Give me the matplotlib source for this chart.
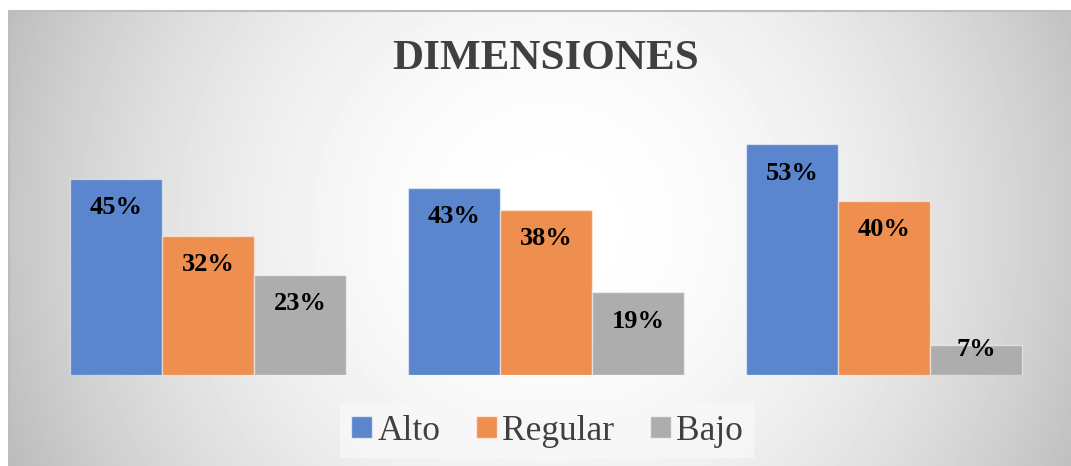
import numpy as np
import matplotlib.pyplot as plt
from matplotlib.patches import Patch

plt.rcParams["font.family"] = ["Liberation Serif", "DejaVu Serif"]

# Data
groups = ["Dimensión 1", "Dimensión 2", "Dimensión 3"]
series = ["Alto", "Regular", "Bajo"]
alto = [45, 43, 53]
regular = [32, 38, 40]
bajo = [23, 19, 7]
colors = ["#5B85CC", "#EE8E4F", "#ADADAD"]

W, H = 1071, 466
fig = plt.figure(figsize=(W / 100, H / 100), dpi=100)
fig.patch.set_facecolor("white")

# Radial grey-to-white background of the chart area
bx0, by0 = 9, 11
bg = fig.add_axes([bx0 / W, 0, (W - bx0) / W, (H - by0) / H], zorder=0)
gx, gy = np.meshgrid(np.arange(bx0, W), np.arange(by0, H))
d = np.hypot(gx - 550, gy - 225)
d = d / d.max()
shade = (255 - 68 * d ** 2.0) / 255
bg.imshow(shade, cmap="gray", vmin=0, vmax=1, aspect="auto",
          extent=(0, 1, 0, 1), interpolation="bilinear")
bg.plot([0, 0, 1], [0, 1, 1], transform=bg.transAxes, color="#bdbdbd",
        linewidth=1.5, clip_on=False)
bg.axis("off")

ax = fig.add_axes([39 / W, 91 / H, 1014 / W, 261 / H], zorder=1)
ax.patch.set_alpha(0)

x = np.arange(len(groups))
width = 0.272
for i, (vals, col, name) in enumerate(zip([alto, regular, bajo], colors, series)):
    pos = x + (i - 1) * width
    ax.bar(pos, vals, width, color=col, edgecolor=(1, 1, 1, 0.5),
           linewidth=1, label=name)
    for px, v in zip(pos, vals):
        ax.text(px, max(v - 6.6, 5.8), f"{v}%", ha="center", va="center",
                fontsize=19, fontweight="bold", color="black")

ax.set_xlim(-0.5, 2.5)
ax.set_ylim(0, 60)
ax.axis("off")

fig.text(546 / W, 1 - 59 / H, "DIMENSIONES", ha="center", va="center",
         fontsize=31, fontweight="bold", color="#404040")

handles = [Patch(facecolor=c, edgecolor=(1, 1, 1, 0.6)) for c in colors]
leg = fig.legend(handles, series, loc="center", bbox_to_anchor=(547 / W, 1 - 431 / H),
                 ncol=3, frameon=True, fontsize=25.5, handlelength=0.6,
                 handleheight=0.6, handletextpad=0.15, columnspacing=1.0,
                 borderpad=0.3, fancybox=False)
leg.get_frame().set_facecolor("#f8f8f8")
leg.get_frame().set_edgecolor("none")
for t in leg.get_texts():
    t.set_color("#404040")

fig.savefig("out.png", dpi=100)
